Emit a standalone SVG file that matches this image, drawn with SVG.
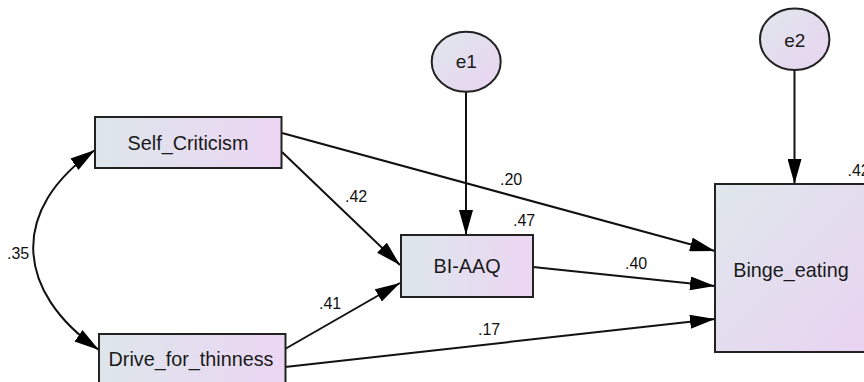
<svg xmlns="http://www.w3.org/2000/svg" width="864" height="382" viewBox="0 0 864 382">
<style>
.box{stroke:#222;stroke-width:2}
.node{font-family:"Liberation Sans",Arial,sans-serif;font-size:19.8px;fill:#1a1a1a;text-anchor:middle}
.lbl{font-family:"Liberation Sans",Arial,sans-serif;font-size:16px;fill:#111}
.con{stroke:#111;stroke-width:2;fill:none;marker-end:url(#ah)}
</style>
<defs>
<linearGradient id="gh" x1="0" y1="0" x2="1" y2="0">
<stop offset="0" stop-color="#dde6eb"/>
<stop offset="1" stop-color="#ecd6f3"/>
</linearGradient>
<linearGradient id="gd" x1="0" y1="0" x2="1" y2="1">
<stop offset="0" stop-color="#dfe7ec"/>
<stop offset="1" stop-color="#e9d3f1"/>
</linearGradient>
<marker id="ah" markerUnits="userSpaceOnUse" markerWidth="25" markerHeight="14" refX="25" refY="7" orient="auto-start-reverse" viewBox="0 0 25 14">
<path d="M0,0 L25,7 L0,14 z" fill="#000"/>
</marker>
</defs>
<g id="connectors">
<path class="con" d="M282,133 L715,251"/>
<path class="con" d="M282,152 L400,265"/>
<path class="con" d="M285,349 L400,283"/>
<path class="con" d="M285,367 L715,319"/>
<path class="con" d="M533,267 L715,286"/>
<path class="con" d="M466,92 L466,235"/>
<path class="con" d="M794.5,70 L794.5,184"/>
<path class="con" d="M95,150 C10,209 14,291 99,350" style="marker-start:url(#ah)"/>
<text class="lbl" x="7" y="259">.35</text>
<text class="lbl" x="345" y="201.5">.42</text>
<text class="lbl" x="500" y="185">.20</text>
<text class="lbl" x="625" y="269">.40</text>
<text class="lbl" x="319" y="309">.41</text>
<text class="lbl" x="478" y="335">.17</text>
</g>
<g id="Self_Criticism">
<rect class="box" x="95" y="117" width="186.5" height="51" fill="url(#gh)"/>
<text class="node" x="188" y="149.5">Self_Criticism</text>
</g>
<g id="Drive_for_thinness">
<rect class="box" x="99" y="334" width="186.5" height="51" fill="url(#gh)"/>
<text class="node" x="191" y="366">Drive_for_thinness</text>
</g>
<g id="BI-AAQ">
<rect class="box" x="401" y="235" width="132" height="62" fill="url(#gh)"/>
<text class="node" x="467" y="273">BI-AAQ</text>
<text class="lbl" x="513" y="226">.47</text>
</g>
<g id="Binge_eating">
<rect class="box" x="715" y="184" width="152" height="168" fill="url(#gd)"/>
<text class="node" x="791" y="277">Binge_eating</text>
<text class="lbl" x="847.5" y="176">.42</text>
</g>
<g id="e1">
<ellipse class="box" cx="466.2" cy="61.7" rx="34.5" ry="30" fill="url(#gd)"/>
<text class="node" x="466.2" y="67.5" style="font-size:19px">e1</text>
</g>
<g id="e2">
<ellipse class="box" cx="794.7" cy="39.2" rx="34.7" ry="30.8" fill="url(#gd)"/>
<text class="node" x="794.7" y="46.5" style="font-size:19px">e2</text>
</g>
</svg>
